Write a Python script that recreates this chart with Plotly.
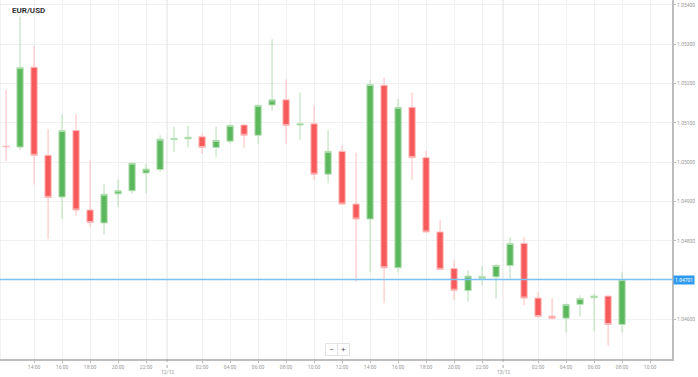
import plotly.graph_objects as go
import pandas as pd

times = pd.date_range("2024-12-11 12:00", periods=45, freq="h")

opens = [1.05040, 1.05038, 1.05241, 1.05017, 1.04911, 1.05080, 1.04878, 1.04845, 1.04919, 1.04927,
         1.04972, 1.04981, 1.05057, 1.05059, 1.05064, 1.05037, 1.05053, 1.05094, 1.05068, 1.05145,
         1.05158, 1.05094, 1.05097, 1.04969, 1.05027, 1.04893, 1.04855, 1.05195, 1.04731, 1.05139,
         1.05011, 1.04822, 1.04729, 1.04673, 1.04704, 1.04708, 1.04737, 1.04793, 1.04654, 1.04608,
         1.04603, 1.04638, 1.04655, 1.04659, 1.04587]
highs = [1.05185, 1.05370, 1.05296, 1.05084, 1.05122, 1.05121, 1.05004, 1.04944, 1.04956, 1.04998,
         1.04997, 1.05068, 1.05090, 1.05092, 1.05073, 1.05090, 1.05095, 1.05097, 1.05146, 1.05312,
         1.05210, 1.05176, 1.05144, 1.05081, 1.05042, 1.05024, 1.05208, 1.05214, 1.05160, 1.05176,
         1.05028, 1.04853, 1.04750, 1.04724, 1.04736, 1.04742, 1.04808, 1.04809, 1.04670, 1.04654,
         1.04638, 1.04661, 1.04666, 1.04660, 1.04721]
lows = [1.05003, 1.05031, 1.04942, 1.04804, 1.04855, 1.04864, 1.04834, 1.04816, 1.04886, 1.04920,
        1.04920, 1.04975, 1.05026, 1.05037, 1.05020, 1.05012, 1.05047, 1.05035, 1.05046, 1.05131,
        1.05047, 1.05056, 1.04954, 1.04946, 1.04892, 1.04696, 1.04721, 1.04641, 1.04719, 1.04954,
        1.04821, 1.04725, 1.04649, 1.04645, 1.04687, 1.04653, 1.04702, 1.04636, 1.04603, 1.04600,
        1.04566, 1.04607, 1.04569, 1.04533, 1.04566]
closes = [1.05039, 1.05240, 1.05017, 1.04910, 1.05080, 1.04878, 1.04846, 1.04918, 1.04927, 1.04997,
          1.04982, 1.05058, 1.05060, 1.05063, 1.05037, 1.05055, 1.05093, 1.05068, 1.05144, 1.05158,
          1.05093, 1.05097, 1.04969, 1.05027, 1.04893, 1.04855, 1.05197, 1.04731, 1.05139, 1.05011,
          1.04822, 1.04727, 1.04674, 1.04710, 1.04709, 1.04737, 1.04793, 1.04654, 1.04607, 1.04603,
          1.04638, 1.04653, 1.04659, 1.04587, 1.04701]

hour_ticks = [t for t in pd.date_range("2024-12-11 14:00", "2024-12-13 10:00", freq="2h") if t.hour != 0]
hour_labels = [t.strftime("%H:%M") for t in hour_ticks]
date_marks = ["2024-12-11 23:30", "2024-12-12 23:30"]
date_labels = ["12/12", "13/12"]
y_ticks = [1.046, 1.047, 1.048, 1.049, 1.050, 1.051, 1.052, 1.053, 1.054]
current_price = closes[-1]
title_text = "EUR/USD"

GREEN = "#5cb85c"
RED = "#f75a5a"
FONT = "Roboto, Arial, sans-serif"

fig = go.Figure(go.Candlestick(
    x=times, open=opens, high=highs, low=lows, close=closes,
    increasing=dict(fillcolor=GREEN, line=dict(color="#b5dfb5", width=1)),
    decreasing=dict(fillcolor=RED, line=dict(color="#ffbcbc", width=1)),
    whiskerwidth=0, showlegend=False, hoverinfo="skip",
))

fig.update_layout(
    width=698, height=377,
    margin=dict(l=0, r=26, t=0, b=18, autoexpand=False),
    paper_bgcolor="white", plot_bgcolor="white",
    boxgap=0.36,
    font=dict(family=FONT, size=5, color="#999"),
    xaxis=dict(
        type="date", automargin=False,
        range=["2024-12-11 11:34", "2024-12-13 11:34"],
        rangeslider=dict(visible=False),
        tickvals=hour_ticks, ticktext=hour_labels,
        showgrid=True, gridcolor="#f1f1f1", gridwidth=1,
        showline=True, linecolor="#bdbdbd", linewidth=1.5,
        ticks="outside", ticklen=2, tickcolor="#bbb",
        tickfont=dict(size=5, color="#999"),
        zeroline=False,
    ),
    yaxis=dict(
        side="right", automargin=False,
        range=[1.044991, 1.054119],
        tickvals=y_ticks, showticklabels=False,
        showgrid=True, gridcolor="#f1f1f1", gridwidth=1,
        showline=True, linecolor="#bdbdbd", linewidth=1.5,
        ticks="outside", ticklen=2, tickcolor="#bbb",
        zeroline=False,
    ),
)

shapes = []
for d in date_marks:
    shapes.append(dict(type="line", xref="x", yref="paper", x0=d, x1=d, y0=0, y1=1,
                       line=dict(color="#e2e2e2", width=1)))
    shapes.append(dict(type="line", xref="x", yref="paper", x0=d, x1=d, y0=0, y1=-0.025,
                       line=dict(color="#aaa", width=1, dash="dot")))
shapes.append(dict(type="line", xref="paper", yref="paper", x0=0, x1=0, y0=0, y1=1,
                   line=dict(color="#e6e6e6", width=1)))
shapes.append(dict(type="line", xref="paper", yref="y", x0=0, x1=1, y0=current_price, y1=current_price,
                   line=dict(color="#7cc0f2", width=1.5)))
fig.update_layout(shapes=shapes)

annotations = [
    dict(text="<b>" + title_text + "</b>", xref="paper", yref="paper", x=10 / 672, y=1 - 11 / 359,
         xanchor="left", yanchor="middle", showarrow=False,
         font=dict(size=8, color="#333", family=FONT)),
    dict(text="−", xref="paper", yref="paper", x=331 / 672, y=10 / 359,
         xanchor="center", yanchor="middle", showarrow=False, bgcolor="white",
         bordercolor="#e3e3e3", borderwidth=1, borderpad=1, width=9,
         font=dict(size=8, color="#555")),
    dict(text="+", xref="paper", yref="paper", x=343 / 672, y=10 / 359,
         xanchor="center", yanchor="middle", showarrow=False, bgcolor="white",
         bordercolor="#e3e3e3", borderwidth=1, borderpad=1, width=9,
         font=dict(size=8, color="#555")),
]
for v in y_ticks:
    if abs(v - current_price) < 0.0002:
        continue  # hidden under the current-price label
    annotations.append(dict(text=f"{v:.5f}", xref="paper", yref="y", x=1, y=v, xshift=3,
                            xanchor="left", yanchor="middle", showarrow=False,
                            font=dict(size=5, color="#999", family=FONT)))
annotations.append(dict(text=f"{current_price:.5f}", xref="paper", yref="y", x=1, y=current_price,
                        xshift=1, xanchor="left", yanchor="middle", showarrow=False,
                        bgcolor="#2f9bf0", font=dict(size=5, color="white", family=FONT),
                        borderpad=1))
for d, lab in zip(date_marks, date_labels):
    annotations.append(dict(text=lab, xref="x", yref="paper", x=d, y=-13 / 359,
                            xanchor="center", yanchor="middle", showarrow=False,
                            font=dict(size=5, color="#999", family=FONT)))
fig.update_layout(annotations=annotations)

fig.write_html("out.html", config={"displayModeBar": False},
               post_script="document.body.style.margin='0';document.body.style.overflow='hidden';")
